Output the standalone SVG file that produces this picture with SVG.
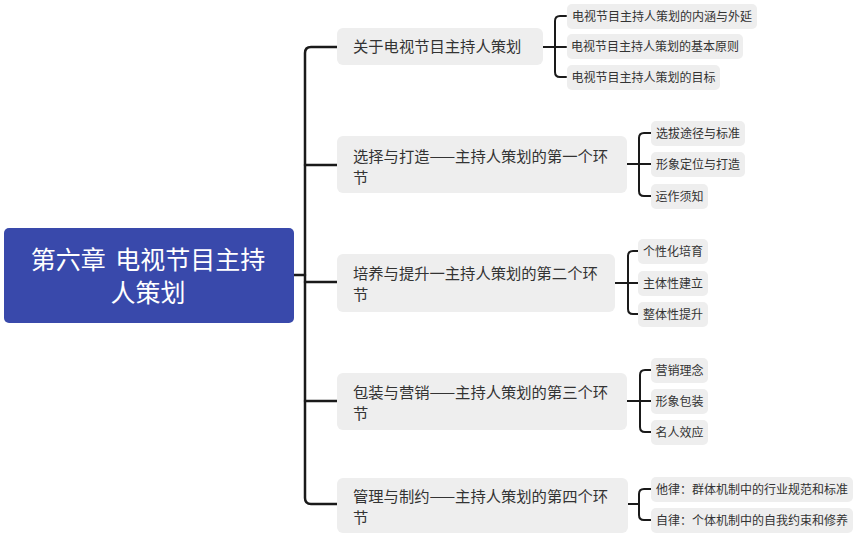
<svg xmlns="http://www.w3.org/2000/svg" width="858" height="537" viewBox="0 0 858 537">
<style>
text{font-family:"Noto Sans CJK SC","Noto Sans",sans-serif;}
.root-box{fill:#3949AB;}
.root-t{fill:#ffffff;font-size:25px;text-anchor:middle;}
.br-box{fill:#EEEEEE;}
.br-t{fill:#333333;font-size:15.3px;}
.lf-box{fill:#EEEEEE;}
.lf-t{fill:#333333;font-size:12px;text-anchor:middle;}
.trunk{fill:none;stroke:#1a1a1a;stroke-width:2.5;stroke-linecap:round;stroke-linejoin:round;}
.br{fill:none;stroke:#1a1a1a;stroke-width:2;stroke-linecap:round;stroke-linejoin:round;}
</style>
<rect width="858" height="537" fill="#ffffff"/>
<g id="connectors">
<path class="trunk" d="M294 275 H305"/>
<path class="trunk" d="M337 47 H311 Q305 47 305 53 V498 Q305 504 311 504 H337"/>
<path class="trunk" d="M305 165 H337"/>
<path class="trunk" d="M305 282 H337"/>
<path class="trunk" d="M305 401 H337"/>
<path class="br" d="M543 47 H566"/>
<path class="br" d="M566 16 H560 Q555 16 555 21 V72 Q555 77 560 77 H566"/>
<path class="br" d="M627 164 H651"/>
<path class="br" d="M651 133 H644 Q639 133 639 138 V191 Q639 196 644 196 H651"/>
<path class="br" d="M615 283 H638"/>
<path class="br" d="M638 251 H633 Q628 251 628 256 V309 Q628 314 633 314 H638"/>
<path class="br" d="M627 401 H651"/>
<path class="br" d="M651 370 H645 Q640 370 640 375 V427 Q640 432 645 432 H651"/>
<path class="br" d="M628 504 H639"/>
<path class="br" d="M651 489 H644 Q639 489 639 494 V515 Q639 520 644 520 H651"/>
</g>
<g id="root">
<rect class="root-box" x="4" y="228" width="290" height="95" rx="5"/>
<text class="root-t" x="148" y="269">第六章 <tspan dx="4">电视节目主持</tspan></text>
<text class="root-t" x="148" y="302">人策划</text>
</g>
<g id="b1">
<rect class="br-box" x="337" y="28" width="206" height="37" rx="6"/>
<text class="br-t" x="353" y="52">关于电视节目主持人策划</text>
</g>
<g id="b2">
<rect class="br-box" x="337" y="136" width="290" height="57" rx="6"/>
<text class="br-t" x="353" y="162">选择与打造——主持人策划的第一个环</text>
<text class="br-t" x="353" y="183">节</text>
</g>
<g id="b3">
<rect class="br-box" x="337" y="254" width="278" height="58" rx="6"/>
<text class="br-t" x="353" y="279">培养与提升一主持人策划的第二个环</text>
<text class="br-t" x="353" y="300">节</text>
</g>
<g id="b4">
<rect class="br-box" x="337" y="373" width="290" height="57" rx="6"/>
<text class="br-t" x="353" y="398">包装与营销——主持人策划的第三个环</text>
<text class="br-t" x="353" y="419">节</text>
</g>
<g id="b5">
<rect class="br-box" x="337" y="478" width="291" height="55" rx="6"/>
<text class="br-t" x="353" y="502">管理与制约——主持人策划的第四个环</text>
<text class="br-t" x="353" y="523">节</text>
</g>
<g id="l1a"><rect class="lf-box" x="567" y="4" width="190" height="25" rx="5"/><text class="lf-t" x="662" y="20.5">电视节目主持人策划的内涵与外延</text></g>
<g id="l1b"><rect class="lf-box" x="567" y="34" width="176" height="25" rx="5"/><text class="lf-t" x="655" y="50.5">电视节目主持人策划的基本原则</text></g>
<g id="l1c"><rect class="lf-box" x="567" y="65" width="153" height="25" rx="5"/><text class="lf-t" x="643.5" y="81.5">电视节目主持人策划的目标</text></g>
<g id="l2a"><rect class="lf-box" x="651" y="121" width="94" height="25" rx="5"/><text class="lf-t" x="698" y="137.5">选拔途径与标准</text></g>
<g id="l2b"><rect class="lf-box" x="651" y="152" width="94" height="25" rx="5"/><text class="lf-t" x="698" y="168.5">形象定位与打造</text></g>
<g id="l2c"><rect class="lf-box" x="651" y="184" width="57" height="25" rx="5"/><text class="lf-t" x="679.5" y="200.5">运作须知</text></g>
<g id="l3a"><rect class="lf-box" x="638" y="239" width="70" height="25" rx="5"/><text class="lf-t" x="673" y="255.5">个性化培育</text></g>
<g id="l3b"><rect class="lf-box" x="638" y="271" width="70" height="25" rx="5"/><text class="lf-t" x="673" y="287.5">主体性建立</text></g>
<g id="l3c"><rect class="lf-box" x="638" y="302" width="70" height="25" rx="5"/><text class="lf-t" x="673" y="318.5">整体性提升</text></g>
<g id="l4a"><rect class="lf-box" x="651" y="358" width="57" height="25" rx="5"/><text class="lf-t" x="679.5" y="374.5">营销理念</text></g>
<g id="l4b"><rect class="lf-box" x="651" y="389" width="57" height="25" rx="5"/><text class="lf-t" x="679.5" y="405.5">形象包装</text></g>
<g id="l4c"><rect class="lf-box" x="651" y="420" width="57" height="25" rx="5"/><text class="lf-t" x="679.5" y="436.5">名人效应</text></g>
<g id="l5a"><rect class="lf-box" x="651" y="477" width="202" height="25" rx="5"/><text class="lf-t" x="752" y="493.5">他律：群体机制中的行业规范和标准</text></g>
<g id="l5b"><rect class="lf-box" x="651" y="508" width="202" height="25" rx="5"/><text class="lf-t" x="752" y="524.5">自律：个体机制中的自我约束和修养</text></g>
</svg>
